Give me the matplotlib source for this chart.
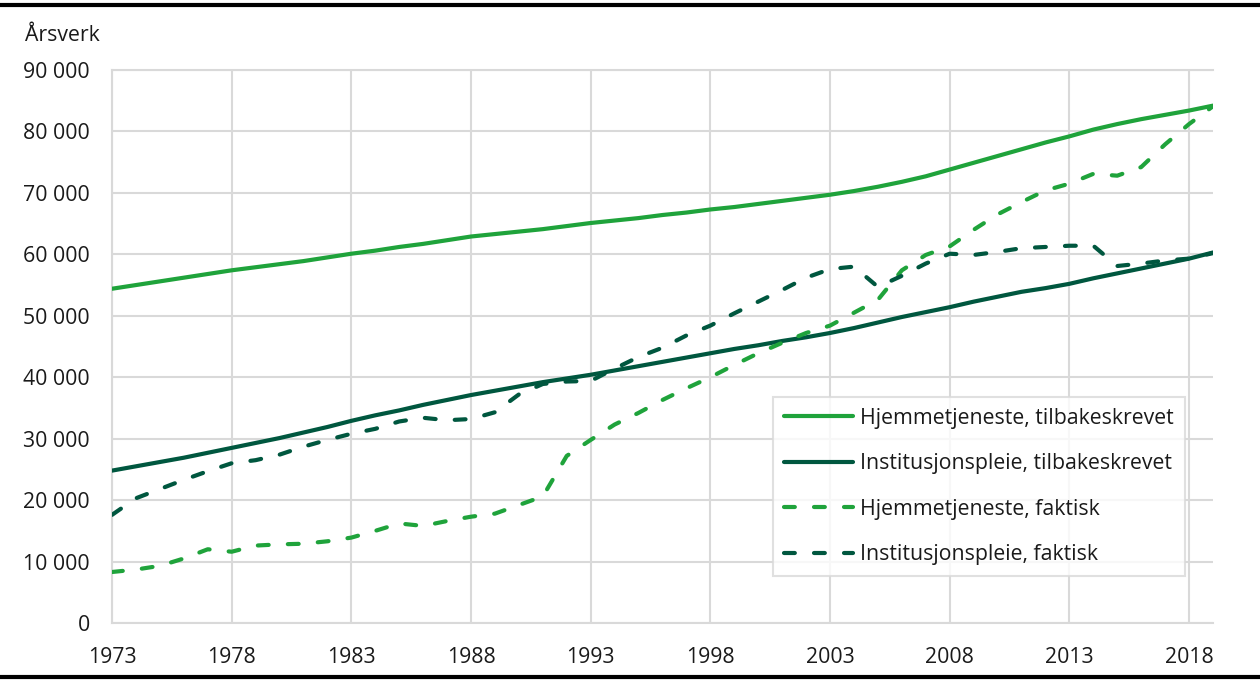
import numpy as np
import matplotlib.pyplot as plt
from matplotlib.lines import Line2D
from matplotlib.ticker import FuncFormatter

plt.rcParams['font.family'] = ['Open Sans', 'DejaVu Sans']

years = np.arange(1973, 2020)

# thousands of man-years
hjem_tilbake = [54.4, 55.0, 55.6, 56.2, 56.8, 57.4, 57.9, 58.4, 58.9, 59.5,
                60.1, 60.6, 61.2, 61.7, 62.3, 62.9, 63.3, 63.7, 64.1, 64.6,
                65.1, 65.5, 65.9, 66.4, 66.8, 67.3, 67.7, 68.2, 68.7, 69.2,
                69.7, 70.3, 71.0, 71.8, 72.7, 73.8, 74.9, 76.0, 77.1, 78.2,
                79.2, 80.3, 81.2, 82.0, 82.7, 83.4, 84.2]
inst_tilbake = [24.8, 25.5, 26.2, 26.9, 27.7, 28.5, 29.3, 30.1, 31.0, 31.9,
                32.9, 33.8, 34.6, 35.5, 36.3, 37.1, 37.8, 38.5, 39.2, 39.8,
                40.4, 41.1, 41.8, 42.5, 43.2, 43.9, 44.6, 45.2, 45.9, 46.5,
                47.2, 48.0, 48.9, 49.8, 50.6, 51.4, 52.3, 53.1, 53.9, 54.5,
                55.2, 56.1, 56.9, 57.7, 58.5, 59.3, 60.3]
hjem_faktisk = [8.3, 8.7, 9.3, 10.5, 12.0, 11.6, 12.6, 12.8, 12.9, 13.3,
                13.9, 15.0, 16.2, 15.8, 16.6, 17.3, 17.8, 19.2, 20.6, 27.2,
                29.8, 32.3, 34.2, 36.3, 38.2, 40.0, 42.0, 43.9, 45.6, 47.2,
                48.4, 50.5, 52.6, 57.4, 59.9, 61.3, 64.0, 66.5, 68.5, 70.4,
                71.5, 73.1, 72.8, 74.2, 77.9, 81.2, 84.1]
inst_faktisk = [17.6, 20.3, 21.8, 23.3, 24.7, 26.0, 26.5, 27.4, 28.7, 29.8,
                30.8, 31.6, 32.8, 33.4, 33.0, 33.2, 34.3, 37.2, 38.9, 39.3,
                39.4, 41.4, 43.3, 44.8, 46.8, 48.4, 50.4, 52.3, 54.2, 56.2,
                57.6, 58.0, 54.7, 56.5, 58.5, 60.1, 59.9, 60.4, 61.0, 61.2,
                61.4, 61.4, 58.1, 58.5, 59.0, 59.3, 60.2]

labels = ['Hjemmetjeneste, tilbakeskrevet', 'Institusjonspleie, tilbakeskrevet',
          'Hjemmetjeneste, faktisk', 'Institusjonspleie, faktisk']
xticks = np.arange(1973, 2019, 5)
yticks = np.arange(0, 90001, 10000)

light = '#1fa33b'
dark = '#00573f'
grid_c = '#d9d9d9'
fs = 15.3
lw = 3

fig = plt.figure(figsize=(12.6, 6.8), dpi=100)
ax = fig.add_axes([112 / 1260, 1 - 623 / 680, 1101 / 1260, 553 / 680])

ax.plot(years, np.array(hjem_tilbake) * 1000, color=light, lw=lw, label=labels[0],
        solid_capstyle='round', zorder=3)
ax.plot(years, np.array(inst_tilbake) * 1000, color=dark, lw=lw, label=labels[1],
        solid_capstyle='round', zorder=3)
ax.plot(years, np.array(hjem_faktisk) * 1000, color=light, lw=lw, label=labels[2],
        dashes=(2.6, 4.6), dash_capstyle='round', zorder=3)
ax.plot(years, np.array(inst_faktisk) * 1000, color=dark, lw=lw, label=labels[3],
        dashes=(2.6, 4.6), dash_capstyle='round', zorder=3)

ax.set_xlim(1973, 2019)
ax.set_ylim(0, 90000)
ax.set_xticks(xticks)
ax.set_yticks(yticks)
ax.yaxis.set_major_formatter(FuncFormatter(lambda v, p: f'{int(v):,}'.replace(',', ' ')))
ax.tick_params(length=0, labelsize=fs, colors='#1a1a1a')
ax.tick_params(axis='y', pad=16)
ax.tick_params(axis='x', pad=17)

ax.grid(True, color=grid_c, lw=1.5, zorder=0)
ax.set_axisbelow(True)
for s in ['left', 'bottom', 'top']:
    ax.spines[s].set_color(grid_c)
    ax.spines[s].set_linewidth(1.5)
ax.spines['right'].set_visible(False)

leg = ax.legend(loc='upper left', bbox_to_anchor=(0.6, 0.409), borderaxespad=0,
                fontsize=fs, frameon=True, fancybox=False, handlelength=3.25,
                handletextpad=0.33, labelspacing=1.15, borderpad=0.52)
leg.get_frame().set_edgecolor(grid_c)
leg.get_frame().set_linewidth(1.5)
for t in leg.get_texts():
    t.set_color('#1a1a1a')

fig.text(25 / 1260, 1 - 41 / 680, 'Årsverk', fontsize=fs, color='#1a1a1a', va='baseline')

fig.add_artist(Line2D([0, 1], [1 - 5 / 680, 1 - 5 / 680], color='black', lw=3))
fig.add_artist(Line2D([0, 1], [3 / 680, 3 / 680], color='black', lw=3))

fig.savefig('out.png', dpi=100)
